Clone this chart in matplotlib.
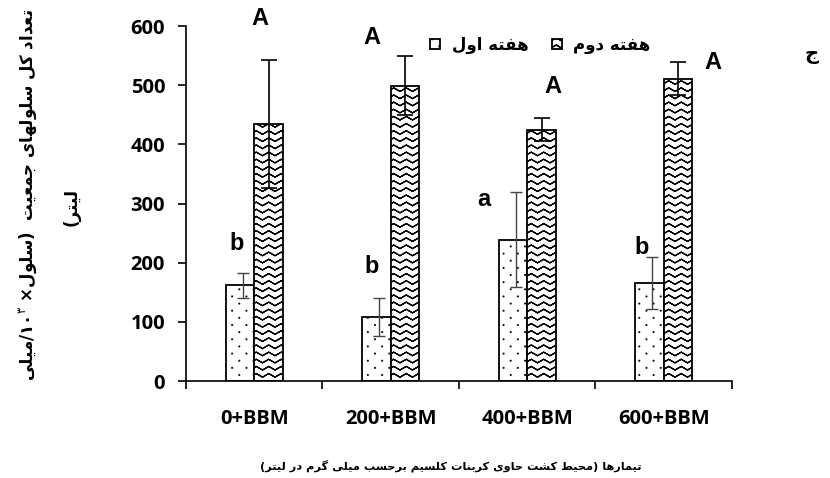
import re
import warnings
import numpy as np
import matplotlib
matplotlib.use('Agg')
import matplotlib.pyplot as plt
import matplotlib.hatch as mhatch
from matplotlib.path import Path

warnings.filterwarnings('ignore')

categories = ['0+BBM', '200+BBM', '400+BBM', '600+BBM']
week1 = [162, 108, 239, 166]
week1_err = [21, 32, 80, 44]
week2 = [435, 499, 425, 511]
week2_err = [108, 50, 19, 28]
week1_letters = ['b', 'b', 'a', 'b']
week2_letters = ['A', 'A', 'A', 'A']
series_names = ['هفته اول', 'هفته دوم']

# positions of the significance letters (category units, y value)
week1_letter_pos = [(-0.13, 233), (0.86, 194), (1.68, 306), (2.84, 226)]
week2_letter_pos = [(0.04, 613), (0.86, 581), (2.19, 497), (3.36, 539)]


# --- minimal Persian shaping + right-to-left ordering ---
FORMS = {
    'ا': ('\uFE8D', '\uFE8E', None, None),
    'ب': ('\uFE8F', '\uFE90', '\uFE91', '\uFE92'),
    'ت': ('\uFE95', '\uFE96', '\uFE97', '\uFE98'),
    'ج': ('\uFE9D', '\uFE9E', '\uFE9F', '\uFEA0'),
    'ح': ('\uFEA1', '\uFEA2', '\uFEA3', '\uFEA4'),
    'د': ('\uFEA9', '\uFEAA', None, None),
    'ر': ('\uFEAD', '\uFEAE', None, None),
    'ز': ('\uFEAF', '\uFEB0', None, None),
    'س': ('\uFEB1', '\uFEB2', '\uFEB3', '\uFEB4'),
    'ش': ('\uFEB5', '\uFEB6', '\uFEB7', '\uFEB8'),
    'ط': ('\uFEC1', '\uFEC2', '\uFEC3', '\uFEC4'),
    'ع': ('\uFEC9', '\uFECA', '\uFECB', '\uFECC'),
    'ف': ('\uFED1', '\uFED2', '\uFED3', '\uFED4'),
    'ق': ('\uFED5', '\uFED6', '\uFED7', '\uFED8'),
    'ل': ('\uFEDD', '\uFEDE', '\uFEDF', '\uFEE0'),
    'م': ('\uFEE1', '\uFEE2', '\uFEE3', '\uFEE4'),
    'ن': ('\uFEE5', '\uFEE6', '\uFEE7', '\uFEE8'),
    'ه': ('\uFEE9', '\uFEEA', '\uFEEB', '\uFEEC'),
    'و': ('\uFEED', '\uFEEE', None, None),
    'ک': ('\uFB8E', '\uFB8F', '\uFB90', '\uFB91'),
    'گ': ('\uFB92', '\uFB93', '\uFB94', '\uFB95'),
    'ی': ('\uFBFC', '\uFBFD', '\uFBFE', '\uFBFF'),
}


def shape(s):
    out = []
    for i, c in enumerate(s):
        if c not in FORMS:
            out.append(c)
            continue
        prev = s[i - 1] if i > 0 else ''
        nxt = s[i + 1] if i + 1 < len(s) else ''
        iso, fin, ini, med = FORMS[c]
        jp = prev in FORMS and FORMS[prev][2] is not None
        jn = ini is not None and nxt in FORMS
        if jp and jn:
            out.append(med)
        elif jp:
            out.append(fin)
        elif jn:
            out.append(ini)
        else:
            out.append(iso)
    return ''.join(out)


def rtl(s):
    runs = re.findall(r'[0-9۰-۹]+|[^0-9۰-۹]', shape(s))[::-1]
    mirror = {'(': ')', ')': '('}
    return ''.join(mirror.get(r, r) for r in runs)


# --- custom hatches: zigzag waves and sparse dots ---
class WaveHatch(mhatch.HatchPatternBase):
    def __init__(self, hatch, density):
        self.rows = hatch.count('~') * 14
        self.waves = 8
        n = 2 * self.waves + 1
        # each zigzag goes there and back so that it has no filled area
        self.num_vertices = self.rows * (2 * n)

    def set_vertices_and_codes(self, vertices, codes):
        n = 2 * self.waves + 1
        xs = np.linspace(0, 1, n)
        amp = 0.5 / self.rows
        ys = amp * (np.arange(n) % 2)
        xx = np.concatenate([xs, xs[::-1]])
        yy = np.concatenate([ys, ys[::-1]])
        m = 2 * n
        for r in range(self.rows):
            y0 = (r + 0.2) / self.rows
            vertices[r * m:(r + 1) * m, 0] = xx
            vertices[r * m:(r + 1) * m, 1] = y0 + yy
            codes[r * m] = Path.MOVETO
            codes[r * m + 1:(r + 1) * m] = Path.LINETO


class DotHatch(mhatch.HatchPatternBase):
    def __init__(self, hatch, density):
        self.rows = hatch.count(':') * 14
        self.cols = 7
        self.circle = Path.unit_circle()
        self.num_vertices = self.rows * self.cols * len(self.circle.vertices)

    def set_vertices_and_codes(self, vertices, codes):
        nv = len(self.circle.vertices)
        rad = 0.004
        k = 0
        for i in range(self.rows):
            for j in range(self.cols):
                x = (j + 0.25 + 0.5 * (i % 2)) / self.cols
                y = (i + 0.5) / self.rows
                vertices[k * nv:(k + 1) * nv] = self.circle.vertices * rad + [x, y]
                codes[k * nv:(k + 1) * nv] = self.circle.codes
                k += 1


mhatch._hatch_types.extend([WaveHatch, DotHatch])

plt.rcParams['hatch.linewidth'] = 0.9
tick_font = 'Open Sans'
fa_font = 'DejaVu Sans'

fig = plt.figure(figsize=(8.3, 4.78), dpi=100)
ax = fig.add_axes([0.2241, 0.2029, 0.6578, 0.7427])

x = np.arange(len(categories))
w = 0.21
b1 = ax.bar(x - w / 2, week1, w, color='white', edgecolor='black',
            linewidth=1.3, hatch=':', label=rtl(series_names[0]), zorder=2)
b2 = ax.bar(x + w / 2, week2, w, color='white', edgecolor='black',
            linewidth=1.3, hatch='~', label=rtl(series_names[1]), zorder=2)
ax.errorbar(x - w / 2 + 0.02, week1, yerr=week1_err, fmt='none',
            ecolor='#444444', elinewidth=1.0, capsize=4.5, capthick=1.0, zorder=3)
ax.errorbar(x + w / 2, week2, yerr=week2_err, fmt='none',
            ecolor='black', elinewidth=1.2, capsize=5.5, capthick=1.2, zorder=3)

for lab, (px, py) in zip(week1_letters, week1_letter_pos):
    ax.text(px, py, lab, ha='center', va='center', fontsize=17,
            fontweight='bold', family='Liberation Sans', clip_on=False)
for lab, (px, py) in zip(week2_letters, week2_letter_pos):
    ax.text(px, py, lab, ha='center', va='center', fontsize=17,
            fontweight='bold', family='Liberation Sans', clip_on=False)

ax.set_xlim(-0.5, len(categories) - 0.5)
ax.set_ylim(0, 600)
ax.set_yticks(range(0, 601, 100))
ax.set_xticks(np.arange(-0.5, len(categories), 1.0))
ax.set_xticklabels([])
ax.set_xticks(x, minor=True)
ax.set_xticklabels(categories, minor=True)
ax.tick_params(axis='x', which='major', direction='out', length=6, width=1.2)
ax.tick_params(axis='x', which='minor', length=0, pad=20)
ax.tick_params(axis='y', direction='out', length=6, width=1.2, pad=9)
for lbl in ax.get_xticklabels(minor=True) + ax.get_yticklabels():
    lbl.set_fontfamily(tick_font)
    lbl.set_fontweight('bold')
    lbl.set_fontsize(14.5)
for s in ['top', 'right']:
    ax.spines[s].set_visible(False)
for s in ['left', 'bottom']:
    ax.spines[s].set_linewidth(1.2)

handles = [b1, b2]
leg = ax.legend(handles, [h.get_label() for h in handles], ncol=2,
                markerfirst=True, frameon=False, loc='center',
                bbox_to_anchor=(0.651, 0.906), bbox_transform=fig.transFigure,
                handlelength=0.6, handleheight=0.6, handletextpad=0.7,
                columnspacing=1.4, prop={'family': fa_font, 'weight': 'bold', 'size': 12})

# y-axis label in two lines
line1 = rtl('/میلی') + '۱۰$^{۳}$' + rtl('تعداد کل سلولهای جمعیت  (سلول× ')
fig.text(28 / 830, 1 - 195 / 478, line1, rotation=90, ha='center', va='center',
         family=fa_font, fontweight='bold', fontsize=12)
fig.text(72 / 830, 1 - 207 / 478, rtl('لیتر)'), rotation=90, ha='center',
         va='center', family=fa_font, fontweight='bold', fontsize=12)

fig.text(451 / 830, 1 - 466 / 478,
         rtl('تیمارها (محیط کشت حاوی کربنات کلسیم برحسب میلی گرم در لیتر)'),
         ha='center', va='center', family=fa_font, fontweight='bold', fontsize=8.2)
fig.text(812 / 830, 1 - 55 / 478, rtl('ج'), ha='center', va='center',
         family=fa_font, fontweight='bold', fontsize=14)

fig.savefig('out.png', dpi=100)
